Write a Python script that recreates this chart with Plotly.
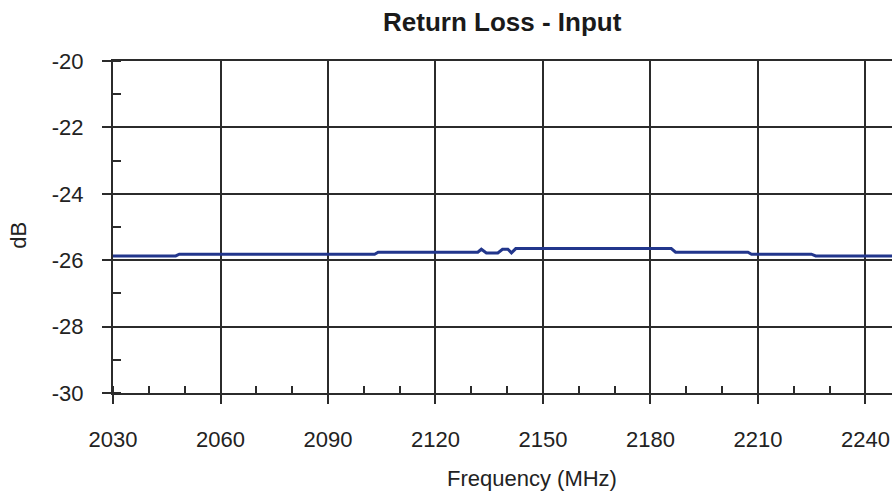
import plotly.graph_objects as go

# Data (breakpoints)
freq_mhz = [2030, 2047.5, 2048.5, 2103, 2104, 2131.8, 2132.8, 2134.2, 2137.4, 2138.7,
            2140.2, 2141.2, 2142.4, 2185.8, 2187, 2207.2, 2208.2, 2224.9, 2226.1, 2250]
return_loss_db = [-25.87, -25.87, -25.82, -25.82, -25.76, -25.76, -25.67, -25.78, -25.78, -25.67,
                  -25.67, -25.78, -25.65, -25.65, -25.76, -25.76, -25.82, -25.82, -25.87, -25.87]

x_ticks = [2030, 2060, 2090, 2120, 2150, 2180, 2210, 2240]
y_ticks = [-30, -28, -26, -24, -22, -20]

FONT = "Liberation Sans, Arial, Helvetica, sans-serif"
DARK = "#2b2b2b"

fig = go.Figure()
fig.add_trace(go.Scatter(
    x=freq_mhz, y=return_loss_db, mode="lines",
    line=dict(color="#22368c", width=3),
    showlegend=False, hoverinfo="skip",
))

fig.update_layout(
    width=892, height=498,
    margin=dict(l=113, r=0, t=61, b=105),
    paper_bgcolor="white", plot_bgcolor="white",
    font=dict(family=FONT, size=22, color="#222"),
    annotations=[
        dict(text="<b>Return Loss - Input</b>", xref="paper", yref="paper",
             x=0.5006, y=1.116, xanchor="center", yanchor="middle",
             showarrow=False, font=dict(size=26, color="#1a1a1a")),
        dict(text="Frequency (MHz)", xref="paper", yref="paper",
             x=0.538, y=-0.257, xanchor="center", yanchor="middle",
             showarrow=False, font=dict(size=22, color="#222")),
        dict(text="dB", xref="paper", yref="paper",
             x=-0.121, y=0.476, xanchor="center", yanchor="middle", textangle=-90,
             showarrow=False, font=dict(size=22, color="#222")),
    ],
)

fig.update_xaxes(
    range=[2030, 2247.4], tickvals=x_ticks, ticktext=[str(v) for v in x_ticks],
    showline=True, linecolor=DARK, linewidth=2, mirror=True,
    showgrid=True, gridcolor=DARK, gridwidth=2,
    ticks="outside", ticklen=9, tickwidth=2, tickcolor=DARK,
    ticklabelstandoff=17,
    minor=dict(dtick=10, tick0=2030, ticks="inside", ticklen=7, tickwidth=2,
               tickcolor=DARK, showgrid=False),
    zeroline=False,
)
fig.update_yaxes(
    range=[-30, -20], tickvals=y_ticks, ticktext=[str(v) for v in y_ticks],
    showline=True, linecolor=DARK, linewidth=2,
    showgrid=True, gridcolor=DARK, gridwidth=2,
    ticks="outside", ticklen=9, tickwidth=2, tickcolor=DARK,
    ticklabelstandoff=14,
    minor=dict(dtick=1, tick0=-30, ticks="inside", ticklen=8, tickwidth=2,
               tickcolor=DARK, showgrid=False),
    zeroline=False,
)

fig.write_html("out.html", config={"displayModeBar": False},
               post_script="document.body.style.margin='0';")
